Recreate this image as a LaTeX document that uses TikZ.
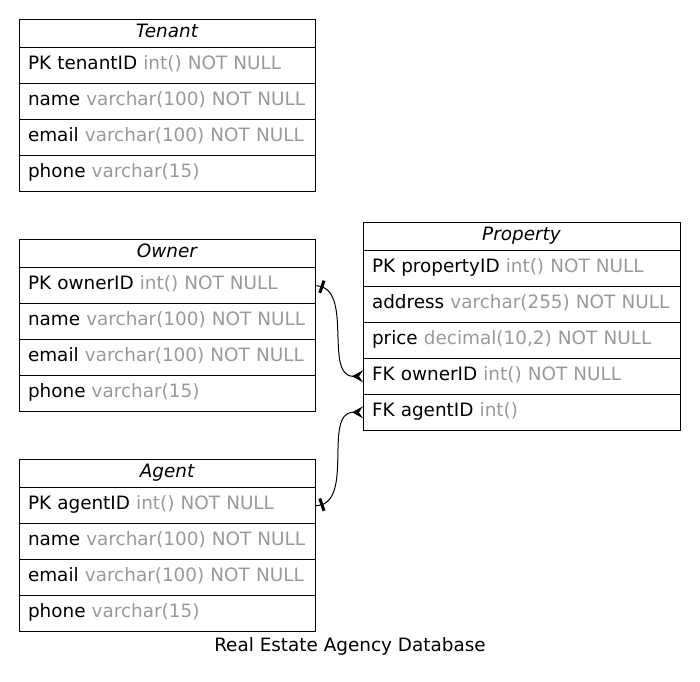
\documentclass[tikz,border=0pt]{standalone}
\usepackage{xcolor}
\usepackage{fontspec}
\setmainfont{DejaVu Sans}
\usepackage{tikz}
\usetikzlibrary{positioning}
\usetikzlibrary{arrows.meta}
\usetikzlibrary{decorations.markings}

\definecolor{typegrey}{RGB}{153,153,153}
\newcommand{\ctype}[1]{\textcolor{typegrey}{#1}}

\begin{document}
\begin{tikzpicture}[x=1pt,y=1pt,font=\fontsize{18.4}{21}\selectfont]
		\tikzstyle{tablehead} = [draw, line width=1pt, outer sep=0pt, inner sep=0pt, minimum width=296pt, minimum height=28pt, text width=278pt, text height=14pt, text depth=6pt, align=center, font=\fontsize{18.4}{21}\selectfont\itshape]
		\tikzstyle{field} = [draw, line width=1pt, outer sep=0pt, inner xsep=9pt, inner ysep=0pt, minimum width=296pt, minimum height=36pt, text width=278pt, text height=14pt, text depth=6pt, align=left]
		\tikzstyle{wide} = [minimum width=317pt, text width=299pt]
		\tikzstyle{relation} = [draw, line width=1pt, -{Stealth[reversed, length=11pt, width=12pt, inset=4pt]},
			postaction={decorate, decoration={markings, mark=at position 7pt with {\fill (-1.5pt,-6.5pt) rectangle (1.5pt,6.5pt);}}}]

		\useasboundingbox (0,0) rectangle (700,681);

		% Tenant
		\node[tablehead, anchor=north west] (t-head) at (19,661.3) {Tenant};
		\node[field, below=0pt of t-head] (t-pk) {PK tenantID \ctype{int() NOT NULL}};
		\node[field, below=0pt of t-pk] (t-name) {name \ctype{varchar(100) NOT NULL}};
		\node[field, below=0pt of t-name] (t-email) {email \ctype{varchar(100) NOT NULL}};
		\node[field, below=0pt of t-email] (t-phone) {phone \ctype{varchar(15)}};

		% Owner
		\node[tablehead, anchor=north west] (o-head) at (19,441.3) {Owner};
		\node[field, below=0pt of o-head] (o-pk) {PK ownerID \ctype{int() NOT NULL}};
		\node[field, below=0pt of o-pk] (o-name) {name \ctype{varchar(100) NOT NULL}};
		\node[field, below=0pt of o-name] (o-email) {email \ctype{varchar(100) NOT NULL}};
		\node[field, below=0pt of o-email] (o-phone) {phone \ctype{varchar(15)}};

		% Agent
		\node[tablehead, anchor=north west] (a-head) at (19,221.3) {Agent};
		\node[field, below=0pt of a-head] (a-pk) {PK agentID \ctype{int() NOT NULL}};
		\node[field, below=0pt of a-pk] (a-name) {name \ctype{varchar(100) NOT NULL}};
		\node[field, below=0pt of a-name] (a-email) {email \ctype{varchar(100) NOT NULL}};
		\node[field, below=0pt of a-email] (a-phone) {phone \ctype{varchar(15)}};

		% Property
		\node[tablehead, wide, anchor=north west] (p-head) at (363,458.7) {Property};
		\node[field, wide, below=0pt of p-head] (p-pk) {PK propertyID \ctype{int() NOT NULL}};
		\node[field, wide, below=0pt of p-pk] (p-addr) {address \ctype{varchar(255) NOT NULL}};
		\node[field, wide, below=0pt of p-addr] (p-price) {price \ctype{decimal(10,2) NOT NULL}};
		\node[field, wide, below=0pt of p-price] (p-fko) {FK ownerID \ctype{int() NOT NULL}};
		\node[field, wide, below=0pt of p-fko] (p-fka) {FK agentID \ctype{int()}};

		\draw[relation] (o-pk.east) to[out=0, in=180] (p-fko.west);
		\draw[relation] (a-pk.east) to[out=0, in=180] (p-fka.west);

		\node[anchor=base] (caption) at (350,29.3) {Real Estate Agency Database};
	\end{tikzpicture}
\end{document}
